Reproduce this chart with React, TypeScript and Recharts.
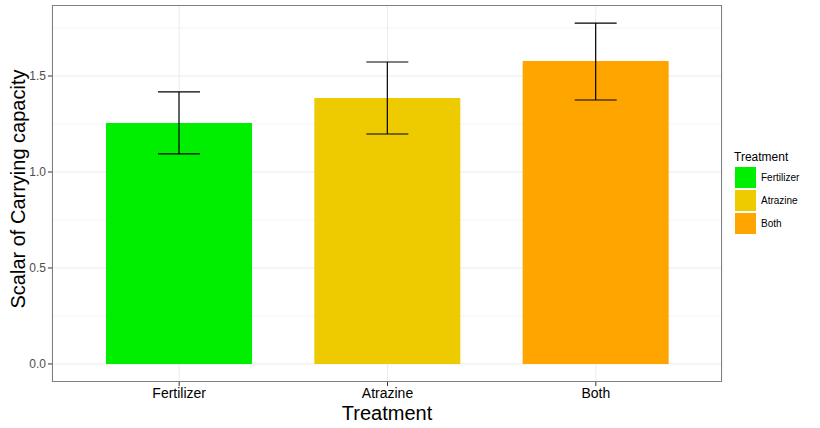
import { BarChart, Bar, XAxis, YAxis, ErrorBar, CartesianGrid, Cell } from 'recharts';

const treatments = ['Fertilizer', 'Atrazine', 'Both'];
const means = [1.255, 1.385, 1.578];
const lower = [0.161, 0.187, 0.203];
const upper = [0.162, 0.188, 0.198];
const colors = ['#00EE00', '#EECB00', '#FFA500'];
const majorTicks = [0, 0.5, 1, 1.5];
const minorTicks = [0.25, 0.75, 1.25, 1.75];

const data = treatments.map((t, i) => ({ name: t, value: means[i], err: [lower[i], upper[i]] }));

const W = 820, H = 428;
const M = { top: 5, right: 98, bottom: 0, left: 0 };
const YW = 52, XH = 46;
const font = 'Liberation Sans, Arial';

const LegendBox = () => (
  <div style={{ position: 'absolute', left: 734, top: 150, fontFamily: font, fontSize: 12, color: '#000' }}>
    <div style={{ marginBottom: 2 }}>Treatment</div>
    {treatments.map((t, i) => (
      <div key={t} style={{ display: 'flex', alignItems: 'center', height: 23 }}>
        <div style={{ width: 21, height: 21, background: colors[i], border: '1px solid #fff' }} />
        <span style={{ fontSize: 10, marginLeft: 4 }}>{t}</span>
      </div>
    ))}
  </div>
);

export default function App() {
  return (
    <div style={{ position: 'absolute', left: 0, top: 0, width: W, height: H, background: '#fff' }}>
      <BarChart width={W} height={H} data={data} margin={M} barSize={146}>
        <CartesianGrid horizontalValues={minorTicks} vertical={false} stroke="#f5f5f5" />
        <CartesianGrid horizontalValues={majorTicks} stroke="#ebebeb" />
        <XAxis dataKey="name" height={XH} padding={{ left: 23, right: 22 }} axisLine={false}
          tick={{ fill: '#000', fontSize: 14, fontFamily: font }} tickLine={{ stroke: '#333' }} tickSize={4}
          label={{ value: 'Treatment', position: 'insideBottom', offset: 0, dy: -8, fill: '#000', fontSize: 20, fontFamily: font }} />
        <YAxis type="number" domain={[-0.094, 1.87]} ticks={majorTicks} width={YW} axisLine={false}
          tickFormatter={(v: number) => v.toFixed(1)} tickSize={4} tickLine={{ stroke: '#333' }}
          tick={{ fill: '#4d4d4d', fontSize: 12, fontFamily: font }}
          label={{ value: 'Scalar of Carrying capacity', angle: -90, position: 'insideLeft', offset: 18, dy: 115, fill: '#000', fontSize: 20, fontFamily: font }} />
        <Bar dataKey="value" isAnimationActive={false}>
          {data.map((d, i) => <Cell key={d.name} fill={colors[i]} />)}
          <ErrorBar dataKey="err" width={21} stroke="#000" strokeWidth={1.2} />
        </Bar>
      </BarChart>
      <div style={{ position: 'absolute', left: YW, top: M.top, width: W - M.right - YW - 2, height: H - M.top - XH - 2, border: '1px solid #7f7f7f', pointerEvents: 'none' }} />
      <LegendBox />
    </div>
  );
}
